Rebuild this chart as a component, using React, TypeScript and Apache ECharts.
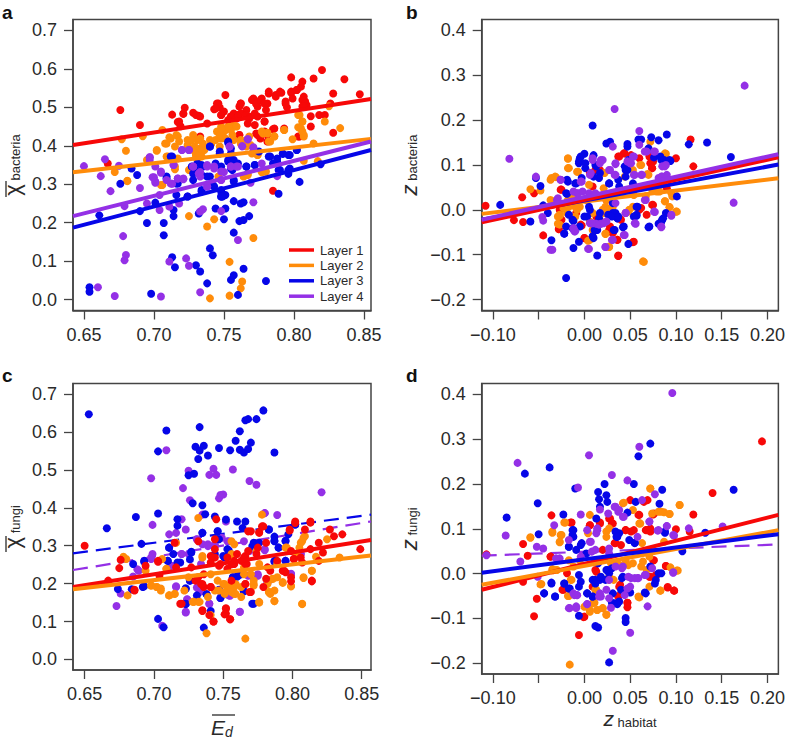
import React, { useEffect, useRef } from "react";
import * as echarts from "echarts";

const layerNames = ["Layer 1", "Layer 2", "Layer 3", "Layer 4"];
const layerColors = ["#f70808", "#ff8c0a", "#0606e8", "#9430e6"];

const edTicks = [0.65, 0.7, 0.75, 0.8, 0.85];
const zTicks = [-0.1, -0.05, 0, 0.05, 0.1, 0.15, 0.2];
const zTickLabels = [-0.1, 0, 0.05, 0.1, 0.15, 0.2];
const chiTicks = [0, 0.1, 0.2, 0.3, 0.4, 0.5, 0.6, 0.7];
const zyTicks = [-0.2, -0.1, 0, 0.1, 0.2, 0.3, 0.4];

const aLayer1 = [[.676,.493],[.690,.454],[.667,.354],[.713,.481],[.722,.499],[.721,.483],[.717,.462],[.719,.451],[.728,.486],[.732,.478],[.733,.424],[.738,.458],[.743,.495],[.745,.510],[.747,.500],[.751,.532],[.748,.480],[.755,.476],[.757,.484],[.761,.502],[.762,.510],[.760,.480],[.766,.493],[.768,.476],[.767,.458],[.771,.523],[.773,.510],[.777,.523],[.781,.510],[.782,.536],[.780,.493],[.779,.463],[.774,.476],[.785,.443],[.787,.528],[.791,.538],[.794,.515],[.795,.500],[.793,.445],[.798,.578],[.798,.538],[.799,.523],[.802,.545],[.806,.567],[.805,.554],[.807,.528],[.808,.515],[.806,.502],[.809,.506],[.812,.477],[.812,.450],[.814,.575],[.820,.597],[.818,.480],[.822,.480],[.828,.536],[.826,.510],[.828,.434],[.836,.573],[.847,.534],[.804,.424],[.785,.283],[.774,.428],[.761,.428],[.779,.437],[.781,.428],
[.746,.510],[.744,.497],[.750,.489],[.755,.476],[.759,.471],[.762,.484],[.766,.480],[.768,.471],[.772,.484],[.774,.502],[.770,.519],[.773,.510],[.776,.519],[.779,.510],[.782,.541],[.787,.532],[.790,.541],[.794,.510],[.798,.541],[.802,.545],[.806,.519],[.808,.510],[.762,.510],[.760,.476],[.753,.467],[.748,.480],[.730,.480],[.733,.476],[.721,.484],[.718,.463],[.772,.454],[.779,.463],[.786,.445],[.761,.428],[.773,.432],[.781,.411],[.776,.419],[.807,.502],[.803,.424]];
const aLayer2 = [[.677,.417],[.680,.387],[.672,.332],[.681,.308],[.692,.425],[.702,.387],[.696,.363],[.706,.441],[.708,.406],[.711,.422],[.717,.425],[.715,.398],[.709,.372],[.706,.298],[.715,.339],[.724,.415],[.728,.428],[.731,.415],[.733,.393],[.735,.406],[.730,.376],[.734,.372],[.725,.337],[.740,.415],[.745,.437],[.748,.450],[.751,.441],[.755,.445],[.757,.454],[.748,.419],[.747,.398],[.757,.415],[.762,.415],[.768,.424],[.766,.398],[.770,.380],[.774,.376],[.778,.432],[.781,.434],[.786,.425],[.783,.411],[.793,.441],[.804,.480],[.806,.463],[.803,.448],[.806,.437],[.807,.424],[.825,.503],[.822,.463],[.833,.446],[.814,.406],[.817,.360],[.807,.361],[.777,.331],[.780,.333],[.764,.320],[.767,.327],[.725,.217],[.743,.209],[.738,.190],[.771,.160],[.754,.098],[.763,.047],[.762,.029],[.754,.010],[.740,.003],[.736,.389],[.728,.393],[.731,.363],[.744,.346],
[.709,.406],[.712,.419],[.716,.428],[.718,.411],[.724,.402],[.727,.415],[.729,.398],[.733,.419],[.731,.385],[.734,.389],[.730,.376],[.728,.389],[.741,.406],[.744,.415],[.747,.428],[.750,.437],[.755,.441],[.759,.450],[.753,.450],[.748,.445],[.756,.428],[.751,.419],[.762,.406],[.766,.415],[.769,.402],[.772,.385],[.774,.376],[.777,.437],[.781,.432],[.786,.424],[.782,.411],[.793,.441],[.799,.417],[.803,.480],[.806,.463],[.805,.445],[.807,.428],[.779,.333],[.767,.324],[.746,.320],[.705,.298],[.681,.309],[.702,.389],[.695,.363],[.710,.372],[.715,.346],[.717,.367]];
const aLayer3 = [[.654,.032],[.654,.020],[.661,.219],[.676,.301],[.684,.341],[.688,.324],[.690,.230],[.695,.199],[.698,.015],[.701,.252],[.707,.199],[.707,.167],[.709,.315],[.713,.372],[.713,.110],[.714,.233],[.714,.217],[.715,.084],[.716,.272],[.717,.302],[.724,.268],[.730,.089],[.733,.073],[.738,.042],[.740,.133],[.742,.115],[.740,.398],[.732,.224],[.734,.350],[.728,.328],[.728,.311],[.740,.320],[.744,.354],[.747,.380],[.753,.411],[.755,.393],[.753,.363],[.757,.363],[.756,.337],[.757,.311],[.744,.237],[.751,.237],[.750,.209],[.748,.281],[.751,.272],[.748,.268],[.757,.256],[.762,.250],[.764,.253],[.761,.204],[.764,.207],[.768,.217],[.757,.174],[.764,.080],[.755,.051],[.757,.063],[.760,.012],[.780,.048],[.766,.346],[.772,.350],[.775,.385],[.783,.372],[.788,.367],[.785,.354],[.789,.337],[.789,.275],[.796,.327],[.797,.341],[.797,.376],[.792,.379],[.802,.389],[.804,.306],[.819,.352],[.727,.346],[.743,.294],[.734,.285],
[.740,.398],[.731,.354],[.735,.346],[.730,.337],[.734,.324],[.738,.320],[.747,.385],[.753,.408],[.755,.380],[.753,.359],[.756,.359],[.760,.354],[.755,.341],[.748,.346],[.742,.298],[.757,.307],[.748,.285],[.750,.272],[.749,.268],[.734,.281],[.724,.268],[.766,.346],[.772,.350],[.782,.372],[.788,.359],[.790,.337],[.796,.376],[.796,.337],[.792,.380],[.802,.389],[.712,.372],[.709,.320],[.716,.302],[.748,.268]];
const aLayer4 = [[.650,.347],[.662,.321],[.660,.032],[.665,.365],[.669,.282],[.672,.009],[.675,.348],[.678,.165],[.680,.116],[.679,.102],[.679,.243],[.690,.290],[.695,.250],[.697,.370],[.697,.363],[.701,.346],[.700,.318],[.701,.304],[.704,.272],[.704,.233],[.705,.008],[.705,.330],[.709,.311],[.711,.242],[.711,.099],[.713,.301],[.718,.250],[.714,.350],[.720,.389],[.717,.315],[.721,.313],[.725,.389],[.723,.107],[.725,.088],[.733,.019],[.728,.346],[.732,.328],[.733,.229],[.735,.235],[.738,.294],[.738,.350],[.743,.346],[.748,.230],[.748,.333],[.748,.311],[.755,.346],[.754,.398],[.763,.399],[.767,.417],[.771,.393],[.769,.304],[.771,.253],[.760,.155],[.777,.354],[.788,.321],[.759,.346],
[.720,.389],[.725,.389],[.714,.350],[.728,.346],[.738,.346],[.743,.341],[.733,.332],[.733,.320],[.717,.315],[.721,.315],[.712,.302],[.750,.332],[.755,.346],[.760,.346],[.748,.311],[.754,.398],[.763,.399],[.767,.417],[.771,.396],[.738,.294],[.705,.333],[.701,.307],[.699,.318],[.697,.370]];

const bLayer1 = [[-.108,.009],[-.077,-.023],[-.067,-.027],[-.068,.028],[-.055,.037],[-.045,-.057],[-.028,-.043],[-.025,.045],[-.003,-.035],[.000,-.063],[.027,-.045],[.031,-.052],[.036,-.067],[.037,-.103],[.053,-.072],[.038,.119],[.044,.126],[.051,.122],[.060,.115],[.071,.119],[.072,.104],[.074,.093],[.100,.115],[.116,.157],[.119,.097],[.009,.052],[.017,.089],[-.027,.000],[.060,.000],[.074,.011],[.090,.048],[.040,-.022],[.013,-.015],[-.009,-.007],[.062,.004],[.053,.052],[.024,.022],[.031,.030],[.006,.082],[-.025,-.022],
[.043,.126],[.037,.119],[.072,.119],[.075,.108],[.074,.093],[.012,.089],[-.026,.045],[-.004,-.033],[.028,-.037],[.027,-.048],[.036,-.067],[.054,-.071],[.000,-.063],[-.028,-.043],[.037,-.102],[.075,.011],[.068,-.011]];
const bLayer2 = [[-.059,.046],[-.048,.043],[-.037,.067],[-.031,.073],[-.018,.114],[-.018,.093],[-.007,.085],[-.027,-.013],[-.029,-.031],[-.018,.022],[-.010,.007],[.006,-.067],[.023,-.054],[.027,-.082],[.065,-.116],[.072,.152],[.089,.125],[.062,.100],[.069,.080],[.044,.074],[.053,.089],[.088,.019],[.093,.006],[.100,-.004],[.096,.030],[.074,.045],[.082,.041],[.067,.030],[.020,.000],[.009,-.007],[.024,.022],[.031,.007],[.049,.000],[.053,.007],[.017,-.022],[-.012,.030],[-.005,.007],[-.034,.019],[-.019,-.007],[.006,-.026],[.009,-.045],[.045,-.007],[-.010,-.015],[.022,.082],[-.023,.004],[-.037,.022],[.002,.022],
[-.036,.071],[-.032,.074],[-.018,.115],[-.017,.093],[-.008,.085],[-.027,-.011],[-.027,-.033],[-.029,-.015],[-.017,.007],[-.008,.000],[.023,.007],[.025,.000],[.021,-.007],[.005,.056],[.021,.048],[.048,-.004],[.054,.033],[.061,.100],[.070,.078],[.088,.126],[.088,.019],[.093,.006],[.101,-.004],[.095,.037],[.079,.041],[.023,-.053],[.004,-.069],[.027,-.083],[.064,-.115]];
const bLayer3 = [[-.092,.011],[-.059,-.026],[-.048,.053],[-.053,.071],[-.045,.010],[-.040,-.007],[-.036,-.068],[-.022,-.053],[-.020,-.037],[-.020,-.152],[-.019,.067],[-.019,.036],[-.012,-.025],[-.012,-.085],[-.006,-.071],[-.005,-.037],[.009,.188],[.014,-.102],[.010,.122],[.000,.125],[-.005,.115],[-.006,.104],[-.003,.071],[-.010,.059],[.013,.097],[.001,.093],[.024,.148],[.028,.152],[.047,.147],[.047,.141],[.059,.157],[.062,.157],[.073,.162],[.081,.155],[.090,.168],[.070,.135],[.076,.117],[.084,.111],[.094,.109],[.114,.146],[.134,.150],[.160,.118],[.101,.030],[.089,-.007],[.085,-.022],[.081,-.031],[.070,-.039],[.057,-.013],[.058,.007],[.048,-.076],[.042,-.039],[.033,-.045],[.011,-.045],[.014,-.045],[.009,-.059],[.000,-.015],[.006,.000],[.026,-.011],[.031,-.007],[.035,-.015],[.036,-.019],[.031,.015],[.038,.052],[.045,.089],[.053,.059],[.044,.097],[.027,.059],[.017,.082],[.017,-.007],[.016,-.019],
[-.004,.119],[-.006,.108],[.001,.104],[.012,.100],[.016,.071],[-.009,.059],[-.018,.063],[-.020,.037],[.005,.007],[.003,-.015],[-.013,-.022],[-.017,-.011],[.034,-.007],[.036,-.019],[.030,-.015],[.037,-.015],[.012,-.045],[.010,-.063],[.032,-.045],[.043,-.037],[.057,.007],[.057,-.011],[.054,-.015],[.037,.067],[.027,.059],[.045,.097],[.047,.089],[.048,.111],[.070,.137],[.083,.119],[.087,.111],[.093,.111],[.071,-.037],[.086,-.019],[.084,-.026],[.045,.074],[.010,.074],[-.013,-.041],[-.022,-.053]];
const bLayer4 = [[-.082,.114],[-.053,.074],[-.046,-.016],[-.045,-.024],[-.037,-.089],[-.035,-.089],[-.030,.022],[-.026,.067],[-.012,-.041],[-.010,-.048],[-.012,.041],[-.007,.037],[-.003,.063],[.005,-.087],[.006,.078],[.009,.111],[.017,.104],[.020,.111],[.013,.030],[.006,-.030],[.013,-.031],[.018,-.031],[.024,-.026],[.023,-.083],[.031,-.067],[.044,-.056],[.031,.141],[.033,.225],[.027,.089],[.034,.102],[.033,.078],[.047,.108],[.051,.104],[.053,.119],[.055,.078],[.060,.176],[.060,.145],[.062,.078],[.056,-.031],[.045,-.007],[.067,.022],[.068,.130],[.077,.130],[.077,-.005],[.085,.097],[.089,.100],[.085,.074],[.090,.078],[.081,.071],[.084,-.039],[.095,-.013],[.163,.016],[.175,.277],
[-.008,.037],[-.002,.041],[.005,.037],[.012,.037],[-.004,.063],[.007,.082],[.018,.111],[.009,.115],[.034,.104],[.028,.089],[.034,.078],[.054,.119],[.050,.104],[.054,.078],[.063,.078],[.088,.097],[.084,.074],[.086,.063],[.090,.071],[.009,-.030],[.016,-.033],[.021,-.030],[-.011,-.048],[-.012,-.041],[.034,.015],[.045,-.007],[.066,.022],[.076,-.004],[.095,-.011],[.084,-.037],[.055,-.030],[.043,-.056],[.030,-.067],[.004,-.087],[.023,-.083],[-.029,.026],[-.026,.067],[.066,.130],[.076,.130]];

const cLayer1 = [[.650,.300],[.667,.208],[.675,.241],[.686,.182],[.676,.263],[.694,.247],[.703,.258],[.720,.147],[.735,.128],[.736,.191],[.741,.191],[.743,.100],[.740,.117],[.751,.119],[.752,.135],[.755,.106],[.745,.370],[.744,.317],[.734,.199],[.730,.208],[.727,.243],[.744,.269],[.748,.252],[.753,.269],[.758,.252],[.763,.260],[.766,.273],[.767,.252],[.774,.278],[.775,.295],[.776,.336],[.778,.351],[.781,.308],[.770,.178],[.766,.199],[.782,.243],[.779,.191],[.793,.234],[.795,.230],[.799,.206],[.798,.343],[.802,.364],[.809,.343],[.813,.364],[.814,.206],[.813,.291],[.819,.308],[.822,.282],[.819,.260],[.827,.343],[.830,.325],[.836,.330],[.849,.291],[.801,.265],[.806,.269],[.799,.286],[.768,.338],[.756,.208],[.732,.312],[.736,.225],
[.741,.256],[.744,.291],[.741,.273],[.747,.247],[.753,.239],[.758,.260],[.760,.278],[.765,.269],[.768,.286],[.766,.252],[.776,.334],[.770,.338],[.779,.351],[.741,.191],[.735,.199],[.735,.130],[.752,.134],[.752,.121],[.755,.106],[.743,.100],[.719,.147],[.766,.199],[.769,.178],[.784,.234],[.794,.234],[.799,.217],[.814,.208],[.801,.265],[.798,.340],[.802,.360],[.813,.361],[.715,.308],[.716,.243],[.732,.217],[.756,.251],[.703,.260],[.686,.184],[.704,.221],[.789,.260],[.781,.213],[.807,.256]];
const cLayer2 = [[.678,.271],[.680,.265],[.681,.169],[.694,.234],[.698,.195],[.702,.191],[.705,.182],[.711,.169],[.715,.173],[.709,.239],[.706,.265],[.716,.308],[.722,.182],[.728,.152],[.732,.152],[.732,.373],[.735,.269],[.741,.117],[.738,.069],[.746,.208],[.750,.199],[.753,.182],[.758,.173],[.763,.191],[.766,.055],[.770,.225],[.772,.199],[.776,.150],[.778,.382],[.782,.199],[.783,.178],[.785,.212],[.787,.182],[.787,.154],[.793,.202],[.795,.295],[.799,.193],[.805,.295],[.807,.312],[.809,.325],[.808,.215],[.807,.146],[.814,.234],[.817,.271],[.825,.317],[.834,.269],[.758,.304],[.756,.278],[.763,.165],[.744,.182],[.758,.191],[.751,.178],[.776,.252],[.789,.252],[.765,.225],[.739,.165],[.725,.217],
[.698,.195],[.702,.191],[.705,.187],[.711,.169],[.715,.173],[.709,.239],[.729,.152],[.733,.152],[.735,.273],[.751,.199],[.754,.195],[.756,.178],[.759,.173],[.751,.173],[.747,.182],[.759,.199],[.772,.195],[.772,.208],[.776,.152],[.784,.173],[.783,.178],[.786,.213],[.787,.154],[.793,.204],[.799,.193],[.807,.147],[.808,.217],[.814,.234],[.803,.278],[.806,.308],[.808,.321],[.741,.225],[.765,.243],[.756,.312],[.756,.272],[.774,.286],[.789,.217],[.796,.295]];
const cLayer3 = [[.653,.647],[.666,.346],[.674,.186],[.684,.185],[.685,.252],[.687,.376],[.691,.305],[.692,.191],[.693,.258],[.703,.385],[.703,.107],[.703,.549],[.707,.085],[.709,.604],[.711,.295],[.710,.260],[.717,.370],[.717,.353],[.714,.278],[.719,.256],[.723,.186],[.723,.146],[.725,.486],[.728,.412],[.729,.490],[.730,.561],[.732,.529],[.733,.551],[.733,.613],[.736,.564],[.735,.407],[.735,.334],[.739,.538],[.737,.383],[.727,.284],[.726,.208],[.731,.169],[.738,.172],[.736,.084],[.741,.128],[.744,.377],[.746,.338],[.747,.558],[.747,.184],[.748,.162],[.747,.317],[.751,.269],[.754,.288],[.752,.369],[.755,.552],[.757,.217],[.760,.219],[.759,.577],[.762,.602],[.762,.553],[.760,.364],[.765,.546],[.764,.347],[.765,.180],[.766,.631],[.768,.634],[.766,.364],[.768,.555],[.770,.572],[.772,.147],[.774,.634],[.773,.304],[.779,.657],[.783,.343],[.787,.546],[.787,.324],[.787,.258],[.787,.312],[.795,.312],[.795,.260],[.790,.295],[.802,.356],[.797,.330],[.744,.278],[.763,.225],[.771,.299],
[.735,.334],[.746,.338],[.753,.291],[.750,.273],[.754,.282],[.726,.208],[.723,.188],[.723,.147],[.738,.172],[.747,.182],[.748,.162],[.765,.180],[.757,.217],[.760,.219],[.762,.224],[.771,.147],[.772,.308],[.776,.308],[.787,.313],[.790,.295],[.795,.313],[.787,.260],[.795,.260],[.783,.343],[.802,.356],[.710,.260],[.717,.256],[.727,.282],[.726,.264],[.693,.260],[.693,.193],[.711,.295]];
const cLayer4 = [[.673,.141],[.676,.174],[.685,.219],[.688,.238],[.698,.478],[.699,.355],[.699,.278],[.698,.265],[.709,.552],[.706,.089],[.711,.330],[.716,.334],[.720,.370],[.721,.452],[.723,.343],[.724,.159],[.723,.124],[.716,.191],[.712,.247],[.720,.278],[.725,.498],[.726,.420],[.731,.317],[.735,.382],[.733,.182],[.740,.147],[.740,.487],[.743,.503],[.745,.487],[.747,.425],[.748,.434],[.750,.435],[.739,.304],[.744,.299],[.752,.364],[.755,.168],[.757,.501],[.762,.126],[.769,.471],[.774,.461],[.780,.386],[.789,.381],[.821,.441],[.780,.288],[.782,.202],[.799,.226],[.775,.225],[.769,.286],[.734,.252],[.725,.278],[.753,.312],[.806,.278],
[.731,.317],[.735,.304],[.739,.299],[.744,.304],[.749,.321],[.754,.312],[.780,.291],[.713,.247],[.720,.278],[.698,.269],[.689,.234],[.782,.204],[.799,.225],[.754,.169],[.716,.193],[.740,.147],[.723,.126],[.724,.158],[.762,.126],[.733,.178],[.731,.190],[.775,.221],[.768,.221],[.806,.278],[.780,.386],[.765,.312]];

const dLayer1 = [[-.116,.028],[-.107,.043],[-.067,.066],[-.062,.040],[-.067,-.018],[-.052,-.056],[-.055,-.095],[-.037,.038],[-.036,.130],[-.023,-.036],[-.014,.114],[-.006,-.137],[-.001,-.097],[.006,.108],[.017,.112],[.027,.123],[.031,.112],[.033,.068],[.040,.064],[.045,.097],[.050,.164],[.051,.094],[.060,.131],[.065,.160],[.069,.164],[.067,.097],[.072,.101],[.075,.132],[.076,.030],[.078,-.003],[.071,-.007],[.089,.017],[.091,-.031],[.098,-.038],[.100,.099],[.115,.094],[.119,.132],[.140,.180],[.194,.295],[.038,-.029],[.037,-.050],[.047,-.065],[.047,-.075],[.009,-.029],[.013,.004],[.020,.053],[-.019,.001],
[.028,.123],[.030,.112],[.034,.068],[.045,.097],[.054,.097],[.068,.097],[.072,.094],[.076,.134],[.059,.131],[.017,.114],[.006,.108],[-.015,.114],[-.037,.038],[-.024,-.036],[.012,.008],[.039,-.025],[.037,-.051],[.047,-.065],[.075,.030],[.079,-.003],[.072,-.007],[.089,.017],[.091,-.030],[.098,-.038],[.000,-.096]];
const dLayer2 = [[-.059,.080],[-.048,-.024],[-.035,.091],[-.025,.086],[-.027,.070],[-.035,.007],[-.030,.008],[-.021,.114],[-.018,-.050],[-.016,-.203],[-.014,-.014],[.006,.131],[.004,.090],[.000,-.074],[.006,-.085],[.014,-.081],[.020,-.077],[.024,-.092],[.009,-.066],[.013,-.036],[.024,.094],[.042,.157],[.053,.142],[.060,.112],[.060,-.053],[.072,.190],[.074,.134],[.081,.138],[.087,.137],[.093,.133],[.087,.071],[.083,-.038],[.104,.153],[.101,.007],[.094,.014],[.071,.038],[.062,.016],[.045,.030],[.027,-.014],[.053,.023],[.063,.068],[.029,.023],[.035,.023],[.071,-.029],[-.005,.030],[-.012,.016],[.017,.030],
[-.035,.010],[-.031,.008],[-.027,.071],[-.026,.086],[-.035,.094],[-.059,.081],[-.022,.114],[.027,.101],[.024,.082],[.061,.112],[.084,.138],[.093,.133],[.104,.153],[.043,.158],[.072,.190],[.064,.027],[.068,.008],[.012,-.036],[.006,-.081],[.014,-.081],[.020,-.077],[.024,-.091],[.011,-.065],[-.047,-.023],[-.017,-.050],[.059,-.051],[.083,-.038],[.102,.007],[.048,.019],[-.017,.030],[-.015,-.014],[.032,-.014],[.027,-.007],[.039,.019]];
const dLayer3 = [[-.085,.125],[-.065,.223],[-.051,.157],[-.050,.088],[-.044,-.044],[-.038,.237],[-.036,-.020],[-.032,-.051],[-.023,.132],[-.022,-.022],[-.017,.060],[-.016,-.033],[-.012,.097],[-.012,.082],[-.010,.190],[-.009,.053],[-.006,-.094],[-.003,.068],[.003,-.044],[.009,-.051],[.012,-.117],[.015,-.120],[.015,.182],[.016,.166],[.017,.149],[.022,.200],[.024,.175],[.025,.160],[.013,.123],[.027,-.198],[.031,-.044],[.033,-.066],[.038,-.062],[.040,-.036],[.045,-.099],[.045,-.108],[.047,.136],[.054,.200],[.056,.160],[.059,.262],[.072,.290],[.067,-.044],[.055,.069],[.078,-.014],[.081,.001],[.082,.156],[.085,.187],[.088,.091],[.107,.050],[.132,.091],[.163,.187],[.024,.008],[.009,-.014],[.017,-.014],[.027,.001],[.038,.090],[.035,.082],[.015,.023],[.042,-.007],[.049,.075],[.002,.045],[.018,-.007],
[-.013,.097],[-.013,.086],[-.017,.060],[-.004,.064],[.034,.094],[.036,.082],[.055,.068],[.025,.008],[.012,-.014],[.012,-.022],[-.006,-.003],[-.004,-.018],[-.006,-.029],[.023,-.014],[.041,-.010],[.030,.012],[-.022,-.022],[-.017,-.033],[-.032,-.051],[-.044,-.044],[-.036,-.022],[.003,-.044],[.009,-.051],[.030,-.065],[.036,-.068],[.050,-.042],[.066,-.042],[.077,-.022],[.072,.016],[.084,.001],[.088,.094]];
const dLayer4 = [[-.107,.041],[-.073,.247],[-.086,.085],[-.070,.027],[-.052,.060],[-.045,.056],[-.051,-.007],[-.033,.108],[-.027,.034],[-.016,-.077],[-.009,-.077],[-.007,.192],[-.004,.132],[-.012,-.044],[-.008,-.048],[.003,-.068],[.005,.264],[.006,.071],[.014,.097],[.017,.143],[.018,-.051],[.030,.220],[.029,-.076],[.031,-.172],[.026,.134],[.033,.149],[.038,.142],[.042,.127],[.047,.208],[.044,-.048],[.050,-.132],[.060,.283],[.063,.164],[.058,.082],[.069,-.073],[.071,.116],[.077,.177],[.080,.096],[.090,.106],[.098,.085],[.114,.101],[.151,.105],[.097,.003],[.096,.403],[.051,-.010],[.058,-.010],[.067,-.003],[.074,.012],[.027,.045],[.008,.049],[.024,-.036],[.042,.016],[.017,-.044],
[-.017,-.077],[-.009,-.073],[.003,-.068],[.016,-.051],[.027,-.055],[.027,-.014],[.034,.016],[.041,.012],[.048,-.007],[.050,-.029],[.047,-.033],[.055,-.010],[.059,-.010],[.066,-.003],[.097,.002],[.003,.097],[.013,.090],[.014,.101],[.034,.149],[.037,.138],[.043,.127],[.071,.116],[.081,.097],[.090,.106],[.097,.086],[.007,.071],[.012,.053],[-.011,-.048],[-.008,-.048],[-.031,.034],[-.017,.075],[.027,.056],[-.004,.038]];

const aRangeX = [0.6422, 0.855];
const bRangeX = [-0.1122, 0.2119];
const cRangeX = [0.6416, 0.8567];
const aRangeY = [-0.0286, 0.7286];
const bRangeY = [-0.2245, 0.4245];
const cRangeY = [-0.0278, 0.728];
const dRangeY = [-0.2239, 0.4241];

const aFit = [[0.402, 0.522], [0.331, 0.418], [0.187, 0.389], [0.217, 0.411]];
const bFit = [[-0.028, 0.117], [-0.009, 0.0705], [-0.022, 0.101], [-0.022, 0.124]];
const cFit = [[0.191, 0.315], [0.185, 0.274], [0.28, 0.382], [0.236, 0.364]];
const dFit = [[-0.036, 0.131], [-0.025, 0.097], [0.002, 0.088], [0.04, 0.065]];

const FONT = '"Liberation Sans", Arial, Helvetica, sans-serif';
const INK = "#2a2a2a";

const panels = [
  { grid: { left: 71, top: 19.5, width: 300, height: 291 }, rx: aRangeX, ry: aRangeY, xt: edTicks, xl: edTicks, yt: chiTicks, pts: [aLayer1, aLayer2, aLayer3, aLayer4], fit: aFit, ptOrder: [0, 1, 2, 3], lineOrder: [0, 1, 2, 3], dashed: [] as number[] },
  { grid: { left: 481.7, top: 19.5, width: 300, height: 291 }, rx: bRangeX, ry: bRangeY, xt: zTicks, xl: zTickLabels, yt: zyTicks, pts: [bLayer1, bLayer2, bLayer3, bLayer4], fit: bFit, ptOrder: [0, 1, 2, 3], lineOrder: [1, 2, 0, 3], dashed: [] as number[] },
  { grid: { left: 71, top: 383.5, width: 300, height: 290.5 }, rx: cRangeX, ry: cRangeY, xt: edTicks, xl: edTicks, yt: chiTicks, pts: [cLayer1, cLayer2, cLayer3, cLayer4], fit: cFit, ptOrder: [3, 2, 1, 0], lineOrder: [3, 2, 0, 1], dashed: [2, 3] },
  { grid: { left: 481.7, top: 383.5, width: 300, height: 290.5 }, rx: bRangeX, ry: dRangeY, xt: zTicks, xl: zTickLabels, yt: zyTicks, pts: [dLayer1, dLayer2, dLayer3, dLayer4], fit: dFit, ptOrder: [0, 1, 2, 3], lineOrder: [3, 0, 1, 2], dashed: [3] },
];

const yTitles = [
  { s: "χ", t: " bacteria", gap: 50, italic: false },
  { s: "z", t: " bacteria", gap: 61, italic: true },
  { s: "χ", t: " fungi", gap: 50, italic: false },
  { s: "z", t: " fungi", gap: 61, italic: true },
];

const fmtX = (v: number) => (v < 0 ? "\u2212" : "") + Math.abs(v).toFixed(2);
const fmtY = (v: number) => (v < 0 ? "\u2212" : "") + Math.abs(v).toFixed(1);

function buildOption() {
  const axisLine = { show: true, onZero: false, lineStyle: { color: "#444", width: 1.5 } };
  const tick = { show: true, length: 9, lineStyle: { color: "#444", width: 1.3 } };
  const series: any[] = [];
  panels.forEach((p, i) => {
    p.ptOrder.forEach((k) => {
      series.push({
        type: "scatter",
        name: `panel ${i} points ${k + 1}`,
        xAxisIndex: i,
        yAxisIndex: i,
        data: p.pts[k],
        symbol: "circle",
        symbolSize: 8,
        itemStyle: { color: layerColors[k], opacity: 1 },
        z: 2,
      });
    });
    p.lineOrder.forEach((k) => {
      const dash = p.dashed.includes(k);
      series.push({
        type: "line",
        name: i === 0 ? layerNames[k] : `panel ${i} fit ${k + 1}`,
        xAxisIndex: i,
        yAxisIndex: i,
        data: [[p.rx[0], p.fit[k][0]], [p.rx[1], p.fit[k][1]]],
        showSymbol: false,
        symbol: "none",
        itemStyle: { color: layerColors[k] },
        lineStyle: { color: layerColors[k], width: dash ? 2.2 : 4, type: dash ? [15, 8] : "solid", cap: "butt" },
        z: dash ? 1 : 3,
      });
    });
  });
  return {
    animation: false,
    backgroundColor: "#ffffff",
    textStyle: { fontFamily: FONT },
    grid: panels.map((p) => ({ ...p.grid, show: true, borderColor: "#444", borderWidth: 1.5, backgroundColor: "transparent", containLabel: false })),
    xAxis: panels.map((p, i) => ({
      type: "value",
      gridIndex: i,
      min: p.rx[0],
      max: p.rx[1],
      axisLine,
      splitLine: { show: false },
      axisTick: { ...tick, customValues: p.xt },
      axisLabel: { customValues: p.xl, formatter: fmtX, fontSize: 18, color: INK, fontFamily: FONT, margin: 15 },
      ...(i === 2
        ? {
            name: "{e|E}{d|d}",
            nameLocation: "middle",
            nameGap: 45,
            nameTextStyle: { rich: { e: { fontSize: 21, fontStyle: "italic", color: INK, fontFamily: FONT }, d: { fontSize: 14, fontStyle: "italic", color: INK, fontFamily: FONT, padding: [10, 0, 0, 0] } } },
          }
        : i === 3
        ? {
            name: "{e|z}{d| habitat}",
            nameLocation: "middle",
            nameGap: 34,
            nameTextStyle: { rich: { e: { fontSize: 21, fontStyle: "italic", color: INK, fontFamily: FONT }, d: { fontSize: 13, color: INK, fontFamily: FONT, padding: [8, 0, 0, 0] } } },
          }
        : {}),
    })),
    yAxis: panels.map((p, i) => ({
      type: "value",
      gridIndex: i,
      min: p.ry[0],
      max: p.ry[1],
      axisLine,
      splitLine: { show: false },
      axisTick: { ...tick, customValues: p.yt },
      axisLabel: { customValues: p.yt, formatter: fmtY, fontSize: 18, color: INK, fontFamily: FONT, margin: 16 },
      name: `{s|${yTitles[i].s}}{t|${yTitles[i].t}}`,
      nameLocation: "middle",
      nameRotate: 90,
      nameGap: yTitles[i].gap,
      nameTextStyle: {
        rich: {
          s: { fontSize: 22, fontStyle: yTitles[i].italic ? "italic" : "normal", color: INK, fontFamily: FONT },
          t: { fontSize: 13, color: INK, fontFamily: FONT, padding: [6, 0, 0, 0] },
        },
      },
    })),
    legend: {
      show: true,
      orient: "vertical",
      left: 284,
      top: 238.5,
      icon: "rect",
      itemWidth: 25,
      itemHeight: 3.5,
      itemGap: 2.4,
      selectedMode: false,
      data: layerNames,
      textStyle: { fontSize: 13, color: INK, fontFamily: FONT, padding: [0, 0, 0, 1] },
    },
    graphic: [
      { type: "text", left: 2, top: 3, style: { text: "a", fontSize: 19, fontWeight: "bold", fill: "#111", fontFamily: FONT } },
      { type: "text", left: 406, top: 3, style: { text: "b", fontSize: 19, fontWeight: "bold", fill: "#111", fontFamily: FONT } },
      { type: "text", left: 2, top: 366, style: { text: "c", fontSize: 19, fontWeight: "bold", fill: "#111", fontFamily: FONT } },
      { type: "text", left: 406, top: 366, style: { text: "d", fontSize: 19, fontWeight: "bold", fill: "#111", fontFamily: FONT } },
      { type: "line", shape: { x1: 212, y1: 715, x2: 235, y2: 715 }, style: { stroke: INK, lineWidth: 1.3 } },
      { type: "line", shape: { x1: 6, y1: 181, x2: 6, y2: 197 }, style: { stroke: INK, lineWidth: 1.3 } },
      { type: "line", shape: { x1: 6, y1: 536, x2: 6, y2: 552 }, style: { stroke: INK, lineWidth: 1.3 } },
    ],
    series,
  };
}

export default function App() {
  const ref = useRef<HTMLDivElement>(null);
  useEffect(() => {
    if (!ref.current) return;
    const chart = echarts.init(ref.current, undefined, { renderer: "svg" });
    chart.setOption(buildOption() as any);
    return () => chart.dispose();
  }, []);
  return <div ref={ref} style={{ position: "absolute", left: 0, top: 0, width: 788, height: 740 }} />;
}
